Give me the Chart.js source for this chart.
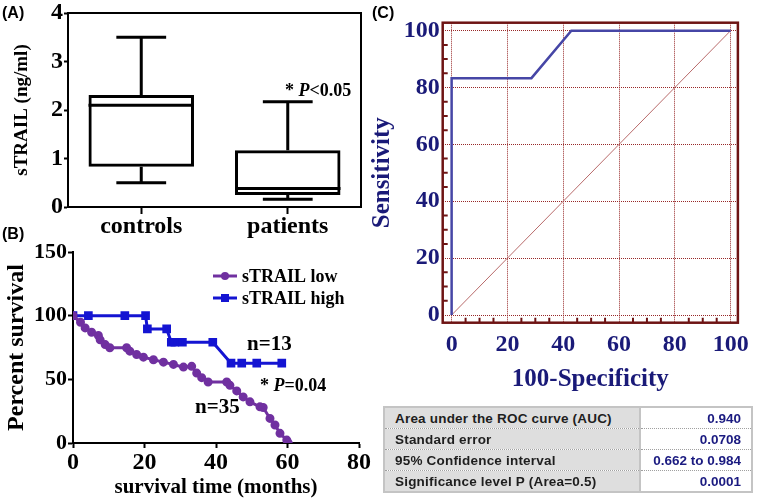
<!DOCTYPE html>
<html>
<head>
<meta charset="utf-8">
<script src="https://cdn.jsdelivr.net/npm/chart.js@4.4.1/dist/chart.umd.min.js"></script>
<style>
  html, body { margin: 0; padding: 0; background: #fff; }
  #page { position: relative; width: 759px; height: 502px; overflow: hidden; font-family: 'Liberation Serif', 'Times New Roman', serif; }
  .panel { position: absolute; }
  .tag { position: absolute; font-family: 'Liberation Sans', Arial, sans-serif; font-weight: bold; font-size: 16px; line-height: 1; color: #000; }
  .note { position: absolute; font-weight: bold; line-height: 1; white-space: nowrap; color: #000; }
  #stats { position: absolute; left: 383px; top: 406px; width: 368px; border-collapse: collapse; table-layout: fixed;
           font-family: 'Liberation Sans', Arial, sans-serif; font-weight: bold; font-size: 13.5px;
           border: 2px solid #c4c4c4; }
  #stats td { height: 20px; border-bottom: 1px dotted #a0a0a0; white-space: nowrap; overflow: hidden; }
  #stats td.lab { background: #dedede; color: #1e1e1e; padding: 0 0 0 10px; letter-spacing: 0.2px; border-right: 2px solid #c4c4c4; }
  #stats td.val { background: #fff; color: #1a1a80; text-align: right; padding: 0 10px 0 0; font-size: 13.5px; }
</style>
</head>
<body>
<div id="page">
  <canvas id="chart-a" class="panel" style="left:0;top:0" width="375" height="240"></canvas>
  <canvas id="chart-b" class="panel" style="left:0;top:228px" width="375" height="274"></canvas>
  <canvas id="chart-c" class="panel" style="left:370px;top:0" width="389" height="400"></canvas>

  <div class="tag" style="left:2px;top:5px">(A)</div>
  <div class="tag" style="left:2px;top:226px">(B)</div>
  <div class="tag" style="left:372px;top:5px">(C)</div>

  <div class="note" style="left:285px;top:81px;font-size:18px">* <i>P</i>&lt;0.05</div>
  <div class="note" style="left:247px;top:333px;font-size:21px">n=13</div>
  <div class="note" style="left:260px;top:376px;font-size:18px">* <i>P</i>=0.04</div>
  <div class="note" style="left:195px;top:396px;font-size:21px">n=35</div>

  <table id="stats"><colgroup><col style="width:256px"><col style="width:112px"></colgroup><tbody></tbody></table>
</div>

<script>
// --- DATOS ---
// (A) box plot sTRAIL
const boxCategories = ['controls', 'patients'];
const boxMin    = [0.50, 0.16];
const boxQ1     = [0.83, 0.25];
const boxMedian = [2.10, 0.38];
const boxQ3     = [2.31, 1.17];
const boxMax    = [3.50, 2.17];

// (B) Kaplan-Meier
const lowTime  = [0, 2.1, 3.4, 5.2, 7.1, 7.6, 9, 10.3, 15, 15.9, 17.8, 19.7, 22.5, 25.3, 28.1, 30.9, 33.2, 34.6, 36, 37.8, 43, 43.9, 45.8, 47.6, 49.5, 52.3, 53.2, 55.1, 56.5, 57.9, 59.8, 60.2];
const lowSurv  = [100, 94.8, 90.4, 87, 84.4, 81, 77.3, 74.8, 74.8, 72.1, 69.5, 67.4, 65.4, 63.5, 61.7, 59.6, 60.2, 54.9, 51.3, 47.9, 47.9, 45.3, 40.9, 36.2, 32.3, 28.4, 27.9, 19.3, 14.1, 7.6, 2.3, 0];
const highTime = [0, 4.3, 14.5, 20.3, 20.8, 26.2, 27.5, 28.5, 30.6, 39.1, 44.2, 47.2, 51.4, 58.4];
const highSurv = [100, 100, 100, 100, 89.6, 89.6, 79.1, 79.1, 79.1, 79.1, 62.7, 62.7, 62.7, 62.7];
const survivalLabels = ['sTRAIL low', 'sTRAIL high'];

// (C) ROC
const rocFpr = [0, 0, 28.6, 42.9, 100];
const rocTpr = [0, 83.3, 83.3, 100, 100];
const rocTicks = [0, 20, 40, 60, 80, 100];

// tabla
const statLabels = ['Area under the ROC curve (AUC)', 'Standard error', '95% Confidence interval', 'Significance level P (Area=0.5)'];
const statValues = ['0.940', '0.0708', '0.662 to 0.984', '0.0001'];

const SERIF = "'Liberation Serif', 'Times New Roman', serif";
const PURPLE = '#7030a0';
const BLUE = '#1414d2';
const NAVY = '#1a1a78';
const FRAME_RED = '#6e1414';
Chart.defaults.font.family = SERIF;

const bold = (size) => ({ family: SERIF, size: size, weight: 'bold', lineHeight: 1 });

// --- PANEL A ---
const boxWhiskers = {
    id: 'boxWhiskers',
    afterDatasetsDraw(chart) {
        const { ctx, scales: { x, y } } = chart;
        const band = x.getPixelForValue(1) - x.getPixelForValue(0);
        const half = band * 0.72 / 2;
        const cap = band * 0.17;
        ctx.save();
        ctx.strokeStyle = '#000';
        ctx.lineWidth = 3;
        boxCategories.forEach((c, i) => {
            const cx = x.getPixelForValue(i);
            const yMed = y.getPixelForValue(boxMedian[i]);
            const yMax = y.getPixelForValue(boxMax[i]);
            const yMin = y.getPixelForValue(boxMin[i]);
            ctx.beginPath();
            ctx.moveTo(cx - half, yMed); ctx.lineTo(cx + half, yMed);
            ctx.moveTo(cx, y.getPixelForValue(boxQ3[i])); ctx.lineTo(cx, yMax);
            ctx.moveTo(cx, y.getPixelForValue(boxQ1[i])); ctx.lineTo(cx, yMin);
            ctx.moveTo(cx - cap, yMax); ctx.lineTo(cx + cap, yMax);
            ctx.moveTo(cx - cap, yMin); ctx.lineTo(cx + cap, yMin);
            ctx.stroke();
        });
        ctx.restore();
    }
};

const frameBox = {
    id: 'frameBox',
    afterDraw(chart, args, opts) {
        const { ctx, chartArea: a } = chart;
        ctx.save();
        ctx.strokeStyle = opts.color || '#000';
        ctx.lineWidth = opts.width || 2;
        ctx.strokeRect(a.left, a.top, a.right - a.left, a.bottom - a.top);
        ctx.restore();
    }
};

new Chart(document.getElementById('chart-a'), {
    type: 'bar',
    data: {
        labels: boxCategories,
        datasets: [{
            data: boxCategories.map((c, i) => [boxQ1[i], boxQ3[i]]),
            backgroundColor: 'rgba(0,0,0,0)',
            borderColor: '#000',
            borderWidth: 3,
            borderSkipped: false,
            barPercentage: 0.72,
            categoryPercentage: 1
        }]
    },
    options: {
        responsive: false, animation: false,
        layout: { padding: { top: 13, right: 14, left: 0, bottom: 0 } },
        plugins: { legend: { display: false }, tooltip: { enabled: false }, frameBox: { color: '#000', width: 2 } },
        scales: {
            x: {
                grid: { drawOnChartArea: false, offset: false, tickLength: 7, tickWidth: 2, tickColor: '#000' },
                border: { color: '#000', width: 2 },
                ticks: { font: bold(24), color: '#000', padding: 1 },
                afterFit: (s) => { s.height = 33; }
            },
            y: {
                min: 0, max: 4,
                ticks: { stepSize: 1, font: bold(24), color: '#000', padding: 1 },
                grid: { drawOnChartArea: false, tickLength: 4, tickWidth: 2, tickColor: '#000' },
                border: { color: '#000', width: 2 },
                title: { display: true, text: 'sTRAIL (ng/ml)', color: '#000', font: bold(19), padding: { top: 13, bottom: 0 } },
                afterFit: (s) => { s.width = 68; }
            }
        }
    },
    plugins: [boxWhiskers, frameBox]
});

// --- PANEL B ---
const survLegend = {
    id: 'survLegend',
    afterDraw(chart) {
        const { ctx, chartArea: a } = chart;
        ctx.save();
        chart.data.datasets.forEach((ds, i) => {
            const x0 = a.left + 140, yy = a.top + 24 + i * 22;
            ctx.strokeStyle = ds.borderColor;
            ctx.lineWidth = 3;
            ctx.beginPath(); ctx.moveTo(x0, yy); ctx.lineTo(x0 + 24, yy); ctx.stroke();
            ctx.fillStyle = ds.borderColor;
            if (ds.pointStyle === 'rect') {
                ctx.fillRect(x0 + 8, yy - 4, 8, 8);
            } else {
                ctx.beginPath(); ctx.arc(x0 + 12, yy, 4, 0, Math.PI * 2); ctx.fill();
            }
            ctx.fillStyle = '#000';
            ctx.font = "bold 18px " + SERIF;
            ctx.textBaseline = 'middle';
            ctx.fillText(ds.label, x0 + 29, yy + 1);
        });
        ctx.restore();
    }
};

new Chart(document.getElementById('chart-b'), {
    type: 'line',
    data: {
        datasets: [
            {
                label: survivalLabels[0],
                data: lowTime.map((t, i) => ({ x: t, y: lowSurv[i] })),
                borderColor: PURPLE, backgroundColor: PURPLE,
                borderWidth: 3, pointRadius: 3, pointStyle: 'circle', tension: 0
            },
            {
                label: survivalLabels[1],
                data: highTime.map((t, i) => ({ x: t, y: highSurv[i] })),
                borderColor: BLUE, backgroundColor: BLUE,
                borderWidth: 3, pointRadius: 4, pointStyle: 'rect', tension: 0
            }
        ]
    },
    options: {
        responsive: false, animation: false,
        layout: { padding: { top: 24, right: 16, left: 0, bottom: 0 } },
        plugins: { legend: { display: false }, tooltip: { enabled: false } },
        scales: {
            x: {
                type: 'linear', min: 0, max: 80,
                ticks: { stepSize: 20, font: bold(24), color: '#000', padding: 3 },
                grid: { drawOnChartArea: false, tickLength: 5, tickWidth: 2, tickColor: '#000' },
                border: { color: '#000', width: 2 },
                title: { display: true, text: 'survival time (months)', color: '#000', font: bold(21), padding: { top: 0, bottom: 3.5 } },
                afterFit: (s) => { s.height = 59; }
            },
            y: {
                min: 0, max: 150,
                ticks: { stepSize: 50, font: bold(22), color: '#000', padding: 1 },
                grid: { drawOnChartArea: false, tickLength: 5, tickWidth: 2, tickColor: '#000' },
                border: { color: '#000', width: 2 },
                title: { display: true, text: 'Percent survival', color: '#000', font: bold(24), padding: { top: 5, bottom: 0 } },
                afterFit: (s) => { s.width = 73; }
            }
        }
    },
    plugins: [survLegend]
});

// --- PANEL C ---
const minorTicks = {
    id: 'minorTicks',
    afterDraw(chart) {
        const { ctx, chartArea: a, scales: { x, y } } = chart;
        ctx.save();
        ctx.strokeStyle = FRAME_RED;
        ctx.lineWidth = 2;
        ctx.beginPath();
        for (let v = 5; v < 100; v += 5) {
            if (v % 20 === 0) continue;
            const py = y.getPixelForValue(v);
            ctx.moveTo(a.left, py); ctx.lineTo(a.left + 5, py);
            const px = x.getPixelForValue(v);
            ctx.moveTo(px, a.bottom); ctx.lineTo(px, a.bottom - 5);
        }
        ctx.stroke();
        ctx.restore();
    }
};

const rocAxis = (min, max, title, extra) => Object.assign({
    type: 'linear', min: min, max: max,
    afterBuildTicks: (s) => { s.ticks = rocTicks.map(v => ({ value: v })); },
    grid: { color: '#982828', lineWidth: 1, drawTicks: false },
    border: { display: false, dash: [1, 1] },
    ticks: { font: bold(24), color: NAVY },
    title: { display: true, text: title, color: NAVY, font: bold(25) }
}, extra);

new Chart(document.getElementById('chart-c'), {
    type: 'line',
    data: {
        datasets: [
            {
                data: rocFpr.map((v, i) => ({ x: v, y: rocTpr[i] })),
                borderColor: '#4646a6', borderWidth: 2.5, pointRadius: 0, tension: 0
            },
            {
                data: [{ x: 0, y: 0 }, { x: 100, y: 100 }],
                borderColor: '#b86a6a', borderWidth: 1, pointRadius: 0
            }
        ]
    },
    options: {
        responsive: false, animation: false,
        layout: { padding: { top: 22.7, right: 15, left: 0, bottom: 0 } },
        plugins: { legend: { display: false }, tooltip: { enabled: false }, frameBox: { color: FRAME_RED, width: 2.5 } },
        scales: {
            x: rocAxis(-3.2, 102.6, '100-Specificity', { afterFit: (s) => { s.height = 77.3; } }),
            y: rocAxis(-2.7, 102.8, 'Sensitivity', { afterFit: (s) => { s.width = 72.7; } })
        }
    },
    plugins: [minorTicks, frameBox]
});

// ajustes finos de ejes C
const chartC = Chart.getChart('chart-c');
chartC.options.scales.x.ticks.padding = 10;
chartC.options.scales.x.title.padding = { top: 0, bottom: 7.5 };
chartC.options.scales.y.ticks.padding = 3;
chartC.options.scales.y.title.padding = { top: 0, bottom: 0 };
chartC.update();

// --- TABLA ---
const tbody = document.querySelector('#stats tbody');
tbody.innerHTML = statLabels.map((lab, i) =>
    `<tr><td class="lab">${lab}</td><td class="val">${statValues[i]}</td></tr>`
).join('');
</script>
</body>
</html>
